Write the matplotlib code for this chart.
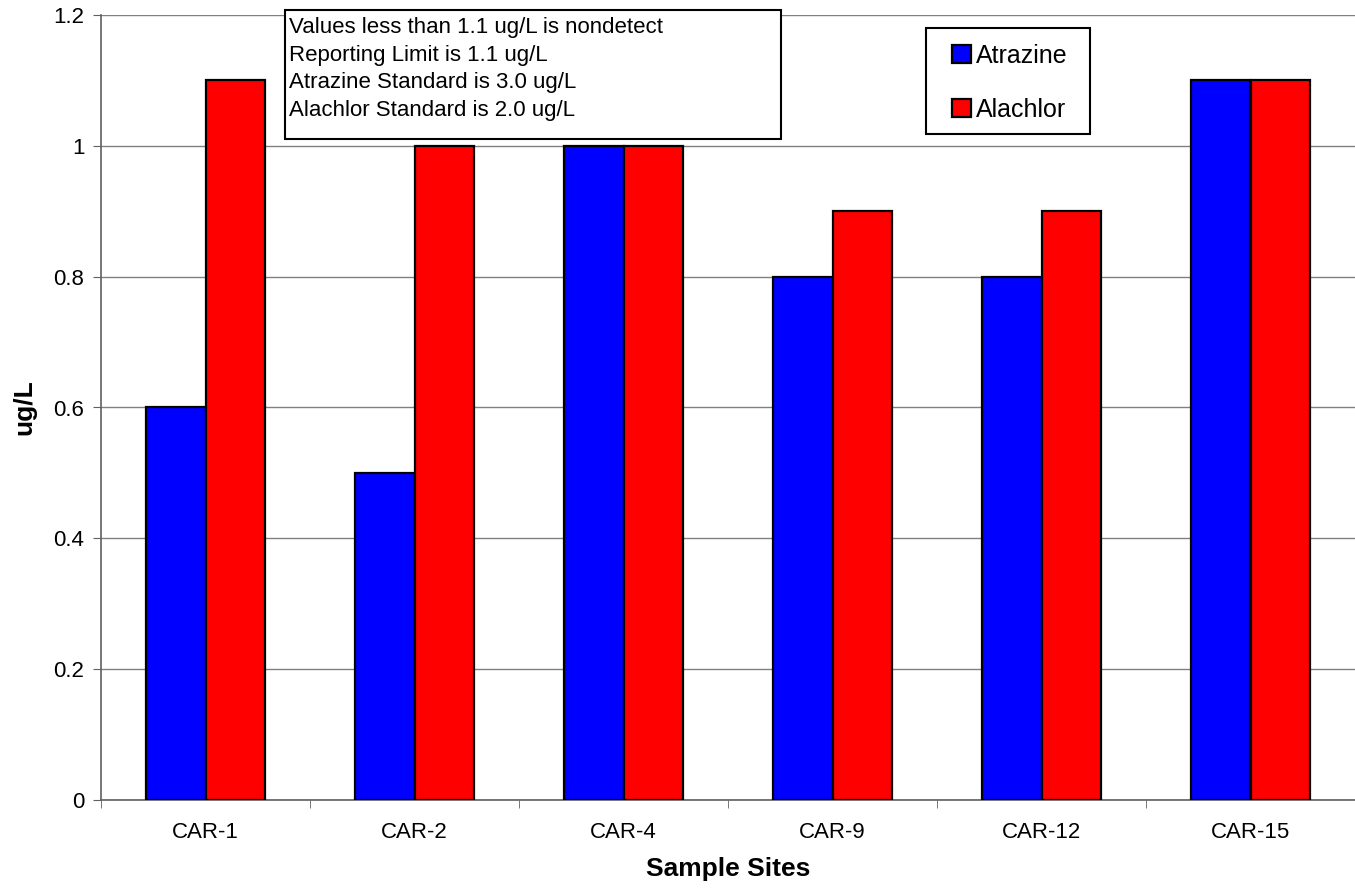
import matplotlib
matplotlib.use("Agg")
import matplotlib.pyplot as plt
from matplotlib.patches import Rectangle
import numpy as np

sites = ["CAR-1", "CAR-2", "CAR-4", "CAR-9", "CAR-12", "CAR-15"]
atrazine = [0.6, 0.5, 1.0, 0.8, 0.8, 1.1]
alachlor = [1.1, 1.0, 1.0, 0.9, 0.9, 1.1]
yticks = [0, 0.2, 0.4, 0.6, 0.8, 1, 1.2]
note_lines = [
    "Values less than 1.1 ug/L is nondetect",
    "Reporting Limit is 1.1 ug/L",
    "Atrazine Standard is 3.0 ug/L",
    "Alachlor Standard is 2.0 ug/L",
]

plt.rcParams["font.family"] = ["Liberation Sans", "DejaVu Sans"]

W, H = 1355, 893
fig = plt.figure(figsize=(W / 100, H / 100), dpi=100)
ax = fig.add_axes([101 / W, 1 - 800 / H, 1 - 101 / W, 785 / H])

x = np.arange(len(sites))
w = 0.287
ax.bar(x - w / 2, atrazine, w, color="#0000ff", edgecolor="black", lw=1.6,
       label="Atrazine", zorder=3)
ax.bar(x + w / 2, alachlor, w, color="#ff0000", edgecolor="black", lw=1.6,
       label="Alachlor", zorder=3)

ax.set_xlim(-0.5, len(sites) - 0.5)
ax.set_ylim(0, 1.2)
ax.set_yticks(yticks)
ax.set_yticklabels([f"{v:g}" for v in yticks], fontsize=16)
ax.yaxis.grid(True, color="#808080", lw=1, zorder=0)

# category labels centred, ticks on the boundaries
ax.set_xticks(x)
ax.set_xticklabels(sites, fontsize=16)
ax.tick_params(axis="x", length=0, pad=16)
ax.set_xticks(np.arange(len(sites) + 1) - 0.5, minor=True)
ax.tick_params(axis="x", which="minor", length=6, direction="out", color="#606060")
ax.tick_params(axis="y", length=6, direction="out", color="#606060", pad=6)

for s in ["top", "right"]:
    ax.spines[s].set_visible(False)
for s in ["left", "bottom"]:
    ax.spines[s].set_color("#606060")
    ax.spines[s].set_linewidth(1.2)

ax.set_xlabel("Sample Sites", fontsize=19, fontweight="bold", labelpad=10)
ax.set_ylabel("ug/L", fontsize=19, fontweight="bold", labelpad=12)

# note box
fig.patches.append(Rectangle((285 / W, 1 - 139 / H), 496 / W, 129 / H,
                             transform=fig.transFigure, fc="white", ec="black",
                             lw=1.5, zorder=5))
fig.text(289 / W, 1 - 17 / H, "\n".join(note_lines), fontsize=16, va="top",
         ha="left", linespacing=1.42, zorder=6)

# legend
fig.patches.append(Rectangle((926 / W, 1 - 134 / H), 164 / W, 106 / H,
                             transform=fig.transFigure, fc="white", ec="black",
                             lw=1.5, zorder=5))
leg = fig.legend(loc="upper left", bbox_to_anchor=(952 / W, 1 - 44 / H),
                 fontsize=18, frameon=False, handlelength=0.75, handleheight=0.75,
                 handletextpad=0.2, labelspacing=1.2, borderpad=0, borderaxespad=0)
leg.set_zorder(6)

fig.savefig("out.png", dpi=100)
